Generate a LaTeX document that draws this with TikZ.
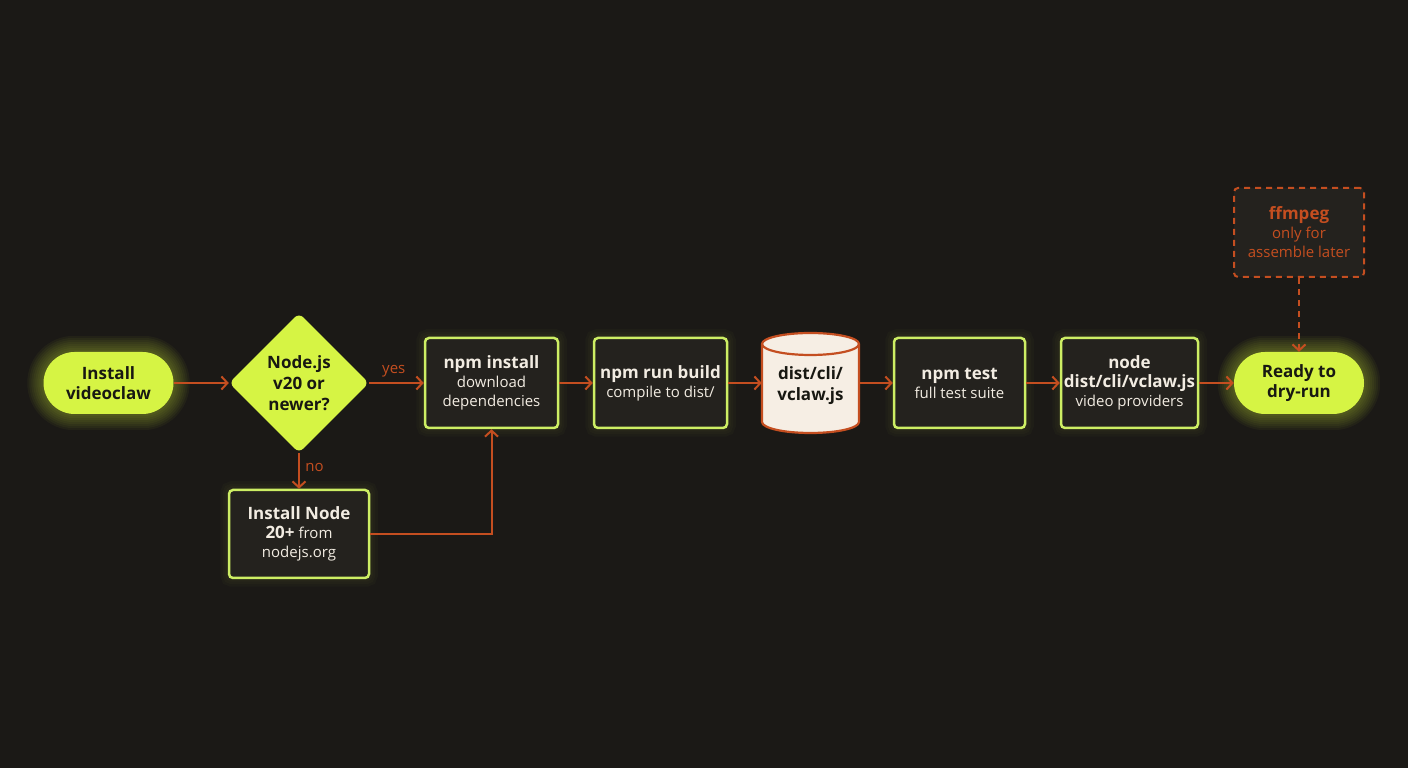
\documentclass[tikz,border=0pt]{standalone}
\usepackage{fontspec}
\setmainfont{Open Sans}
\usetikzlibrary{arrows.meta,shapes.geometric}
\definecolor{bgc}{RGB}{27,25,22}
\definecolor{lime}{RGB}{214,244,68}
\definecolor{limeb}{RGB}{205,238,100}
\definecolor{orng}{RGB}{196,78,32}
\definecolor{boxf}{RGB}{36,34,30}
\definecolor{txtl}{RGB}{242,236,226}
\definecolor{txtd}{RGB}{24,24,18}
\definecolor{cream}{RGB}{246,238,228}
\pgfdeclarelayer{bglayer}
\pgfdeclarelayer{glowlayer}
\pgfsetlayers{bglayer,glowlayer,main}
\newcommand\hd[1]{{\fontsize{17}{19}\selectfont\bfseries #1}}
\begin{document}
\begin{tikzpicture}[x=1pt,y=1pt,
  pill/.style={rectangle, rounded corners=31pt, fill=lime, minimum width=130pt, minimum height=62pt, inner sep=0pt, text=txtd, font=\fontsize{17}{20}\selectfont\bfseries, align=center},
  stepbox/.style={rectangle, rounded corners=4pt, draw=limeb, line width=2.5pt, fill=boxf, text=txtl, align=center, inner sep=0pt, font=\fontsize{15}{19}\selectfont},
  decision/.style={diamond, fill=lime, minimum width=140pt, minimum height=140pt, inner sep=0pt, rounded corners=6pt, text=txtd, align=center, font=\fontsize{17}{21}\selectfont\bfseries},
  optbox/.style={rectangle, rounded corners=4pt, draw=orng, line width=2pt, dash pattern=on 6pt off 5pt, fill=boxf, text=orng, align=center, inner sep=0pt, minimum width=130pt, minimum height=89pt, font=\fontsize{15}{19}\selectfont},
  flow/.style={draw=orng, line width=2pt, -{Straight Barb[length=6pt,width=13pt,line width=2pt]}},
  lbl/.style={text=orng, font=\fontsize{15}{18}\selectfont},
]
\begin{pgfonlayer}{bglayer}
  \fill[bgc] (0,0) rectangle (1408,768);
\end{pgfonlayer}
\useasboundingbox (0,0) rectangle (1408,768);

% nodes
\node[pill] (start) at (108.5,385) {Install\\videoclaw};
\node[decision] (dec) at (299,385) {Node.js\\v20 or\\newer?};
\node[stepbox, minimum width=140pt, minimum height=88pt] (inst) at (299,234) {\hd{Install Node}\\\hd{20+} from\\nodejs.org};
\node[stepbox, minimum width=133pt, minimum height=90pt] (npmi) at (491.5,385) {\hd{npm install}\\download\\dependencies};
\node[stepbox, minimum width=133pt, minimum height=90pt] (build) at (660.5,385) {\hd{npm run build}\\compile to dist/};
\node[rectangle, minimum width=97pt, minimum height=100pt, inner sep=0pt] (cyl) at (810.5,385) {};
\node[stepbox, minimum width=131pt, minimum height=90pt] (test) at (959.5,385) {\hd{npm test}\\full test suite};
\node[stepbox, minimum width=137pt, minimum height=90pt] (run) at (1129.5,385) {\hd{node}\\\hd{dist/cli/vclaw.js}\\video providers};
\node[pill] (ready) at (1299,385) {Ready to\\dry-run};
\node[optbox] (ff) at (1299,535.5) {\hd{ffmpeg}\\only for\\assemble later};

% cylinder drawing
\fill[cream] (762,424) -- (762,346) arc[start angle=180,end angle=360,x radius=48.5pt,y radius=11pt] -- (859,424) arc[start angle=0,end angle=180,x radius=48.5pt,y radius=11pt] -- cycle;
\draw[orng, line width=2.2pt] (762,424) -- (762,346) arc[start angle=180,end angle=360,x radius=48.5pt,y radius=11pt] -- (859,424) arc[start angle=0,end angle=180,x radius=48.5pt,y radius=11pt] -- cycle;
\draw[orng, line width=2.2pt] (762,424) arc[start angle=180,end angle=360,x radius=48.5pt,y radius=11pt];
\node[text=txtd, align=center, font=\fontsize{17}{21}\selectfont\bfseries] (cyltxt) at (810.5,382) {dist/cli/\\vclaw.js};

% glow
\begin{pgfonlayer}{glowlayer}
  \foreach \w in {4,8,...,32} {
    \draw[lime, line width=\w pt, opacity=0.045, rounded corners=31pt] (start.south west) rectangle (start.north east);
    \draw[lime, line width=\w pt, opacity=0.045, rounded corners=31pt] (ready.south west) rectangle (ready.north east);
  }
  \foreach \n in {inst,npmi,build,test,run} {
    \foreach \w in {5,10,15} {
      \draw[limeb, line width=\w pt, opacity=0.025, rounded corners=4pt] (\n.south west) rectangle (\n.north east);
    }
  }
\end{pgfonlayer}

% connectors
\draw[flow] (start) -- (dec);
\draw[flow] (dec) -- node[lbl, above, pos=0.45, yshift=2pt] {yes} (npmi);
\draw[flow] (dec) -- node[lbl, right, pos=0.4, xshift=2pt] {no} (inst);
\draw[flow] (inst.east) -| (npmi.south);
\draw[flow] (npmi) -- (build);
\draw[flow] (build) -- (cyl);
\draw[flow] (cyl) -- (test);
\draw[flow] (test) -- (run);
\draw[flow] (run) -- (ready);
\draw[flow, dash pattern=on 6pt off 5pt] (ff) -- (ready);
\end{tikzpicture}
\end{document}
